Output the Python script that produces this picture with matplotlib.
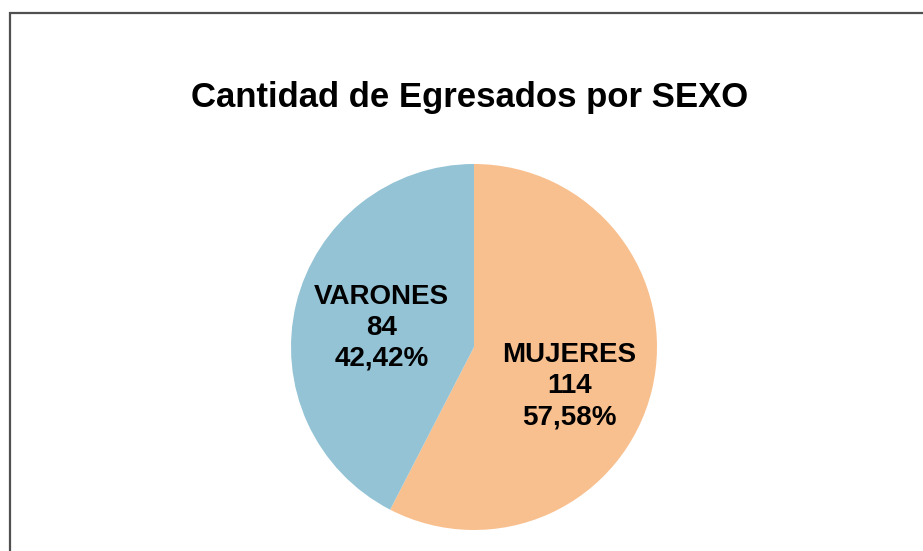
import matplotlib.pyplot as plt
from matplotlib.patches import Rectangle

# datos
categorias = ["MUJERES", "VARONES"]
cantidades = [114, 84]
porcentajes = ["57,58%", "42,42%"]
colores = ["#F9C08F", "#93C3D5"]

plt.rcParams['font.family'] = ['Liberation Sans', 'DejaVu Sans']

W, H = 923, 551
fig = plt.figure(figsize=(W / 100, H / 100), dpi=100)

# marco del grafico (se corta a la derecha y abajo)
fig.patches.append(Rectangle((10 / W, -0.1), 1.2, (H - 13) / H + 0.1,
                             transform=fig.transFigure, fill=False,
                             edgecolor="#505050", linewidth=1.6))

fig.text(470 / W, 1 - 97 / H, "Cantidad de Egresados por SEXO",
         ha="center", va="center", fontsize=25, fontweight="bold")

# eje del pastel: centro (474, 347), radio 183 px
ax = fig.add_axes([291 / W, (H - 530) / H, 366 / W, 366 / H])
etiquetas = [f"{c}\n{n}\n{p}" for c, n, p in zip(categorias, cantidades, porcentajes)]
wedges, texts = ax.pie(cantidades, colors=colores, startangle=90, counterclock=False,
                       labels=etiquetas, labeldistance=0.53,
                       textprops=dict(fontsize=20, fontweight="bold", ha="center",
                                      va="center", linespacing=1.25))
ax.set_xlim(-1, 1)
ax.set_ylim(-1, 1)
ax.set_aspect("equal")
# posiciones de etiquetas como en Excel
texts[0].set_position((0.52, -0.215))
texts[1].set_position((-0.505, 0.105))

fig.savefig("out.png", dpi=100)
